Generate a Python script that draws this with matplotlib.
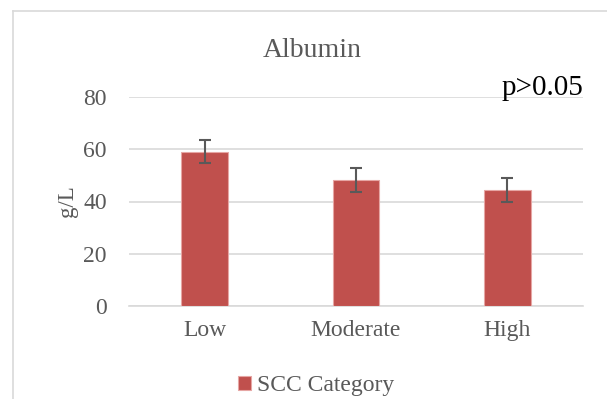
import matplotlib.pyplot as plt
from matplotlib.lines import Line2D

categories = ["Low", "Moderate", "High"]
albumin_mean = [59.1, 48.2, 44.5]
albumin_err = [4.4, 4.5, 4.5]
y_ticks = [0, 20, 40, 60, 80]

plt.rcParams["font.family"] = ["Liberation Serif", "DejaVu Serif"]
GRAY = "#595959"

fig = plt.figure(figsize=(6.07, 3.99), dpi=100)
ax = fig.add_axes([129 / 607, 1 - 306 / 399, 454 / 607, 209 / 399])

x = range(len(categories))
ax.bar(x, albumin_mean, width=0.31, color="#C0504D", edgecolor="#E6A6A4",
       linewidth=0.8, zorder=3, label="SCC Category")
ax.errorbar(x, albumin_mean, yerr=albumin_err, fmt="none", ecolor=GRAY,
            elinewidth=1.5, capsize=4.3, capthick=1.5, zorder=4)

ax.set_xlim(-0.5, 2.5)
ax.set_ylim(0, 80)
ax.set_yticks(y_ticks)
ax.set_xticks(list(x))
ax.set_xticklabels(categories)
ax.tick_params(axis="both", length=0, labelsize=17, labelcolor=GRAY)
ax.tick_params(axis="y", pad=16)
ax.tick_params(axis="x", pad=10)
ax.grid(axis="y", color="#D9D9D9", linewidth=1.2, zorder=0)
for side in ["top", "right", "left"]:
    ax.spines[side].set_visible(False)
ax.spines["bottom"].set_color("#D9D9D9")
ax.spines["bottom"].set_linewidth(1.2)

ax.set_ylabel("g/L", fontsize=16.5, color=GRAY, labelpad=4)

fig.text(312 / 607, 1 - 57 / 399, "Albumin", ha="center", va="baseline",
         fontsize=20, color=GRAY)
fig.text(583 / 607, 1 - 95 / 399, "p>0.05", ha="right", va="baseline",
         fontsize=21, color="black")

fig.legend(loc="center", bbox_to_anchor=(316 / 607, 1 - 386 / 399),
           frameon=False, fontsize=17, labelcolor=GRAY, handlelength=0.55,
           handleheight=0.55, handletextpad=0.25, borderpad=0)

# chart area border (only left and top edges are in frame)
fig.add_artist(Line2D([13 / 607, 13 / 607], [0, 1 - 11 / 399],
                      transform=fig.transFigure, color="#D9D9D9", lw=1.2))
fig.add_artist(Line2D([13 / 607, 1], [1 - 11 / 399, 1 - 11 / 399],
                      transform=fig.transFigure, color="#D9D9D9", lw=1.2))

fig.savefig("out.png", dpi=100)
